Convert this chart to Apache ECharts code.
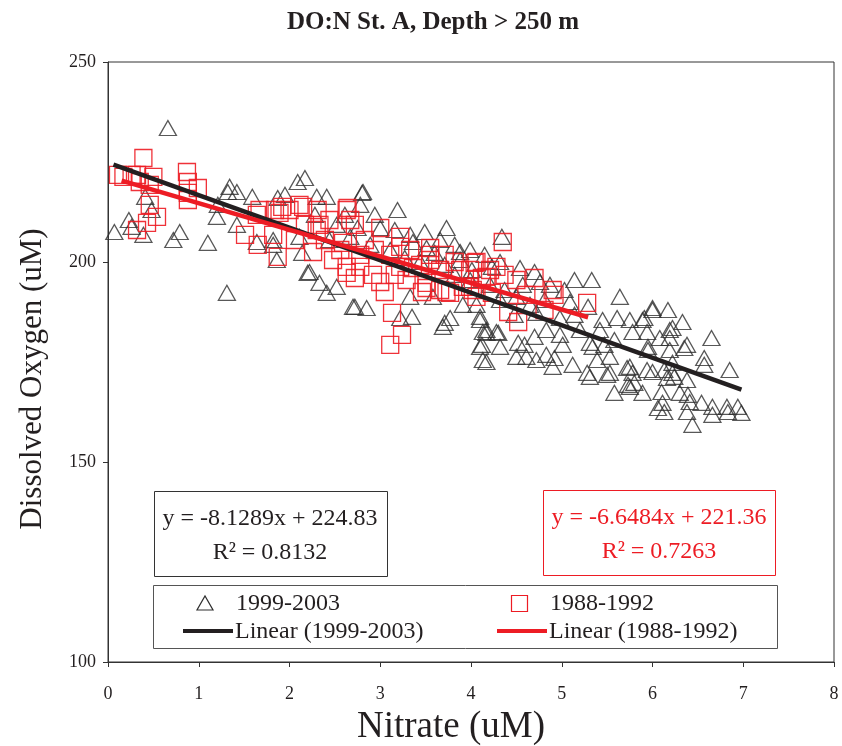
<!DOCTYPE html>
<html>
<head>
<meta charset="utf-8">
<script src="https://cdn.jsdelivr.net/npm/echarts@6/dist/echarts.min.js"></script>
<style>html,body{margin:0;padding:0;background:#fff}#c{width:842px;height:746px}</style>
</head>
<body>
<div id="c"></div>
<script>
// Observations 1999-2003 [nitrate uM, dissolved oxygen uM]
const obs1999 = [[0.07,207.5],[0.66,233.5],[0.41,216.3],[0.48,213.0],[0.23,210.5],[0.26,208.8],[0.39,206.8],[0.72,205.5],[0.79,207.5],[1.10,204.8],[1.31,192.3],[1.34,218.8],[1.42,217.5],[1.32,217.5],[1.59,216.3],[1.20,211.3],[1.42,209.3],[1.64,205.0],[1.82,204.3],[1.86,200.5],[1.95,216.8],[2.09,220.0],[2.17,221.0],[1.21,214.3],[1.82,205.5],[2.11,206.3],[2.14,202.3],[2.20,197.3],[2.33,194.8],[2.41,192.3],[2.52,193.8],[2.30,216.3],[2.41,216.3],[1.87,216.0],[2.81,217.5],[3.19,213.0],[3.73,208.5],[2.22,197.5],[2.72,188.8],[2.85,188.5],[3.22,186.0],[3.35,186.3],[3.71,184.8],[3.77,186.0],[4.10,185.5],[4.13,182.5],[4.12,179.3],[3.36,205.0],[3.51,203.5],[3.00,208.5],[2.75,208.5],[2.52,209.3],[3.91,189.3],[3.58,191.3],[3.33,191.3],[3.88,200.5],[4.01,198.0],[4.06,189.3],[2.80,217.3],[2.70,188.8],[3.69,183.8],[4.17,182.3],[4.10,178.8],[3.60,202.3],[3.88,202.5],[4.23,198.8],[4.34,206.3],[5.33,195.5],[4.76,195.0],[4.57,194.3],[4.50,191.3],[4.10,186.3],[4.17,183.0],[4.28,182.5],[4.13,175.5],[4.17,175.0],[4.52,179.8],[4.61,176.3],[4.70,181.3],[4.83,176.8],[4.92,176.0],[4.90,173.8],[5.01,179.3],[5.12,174.3],[5.28,172.3],[5.31,171.3],[4.98,186.0],[4.83,183.0],[5.31,179.8],[4.72,187.3],[5.64,191.3],[6.00,188.0],[6.17,188.0],[5.29,188.8],[5.09,190.0],[5.61,186.0],[5.75,185.5],[5.89,185.5],[5.78,182.5],[5.94,182.5],[6.19,183.0],[5.47,179.3],[5.34,178.8],[5.53,172.3],[5.72,173.5],[5.78,172.3],[5.94,173.0],[6.00,172.5],[6.13,173.0],[5.58,167.3],[5.73,169.3],[5.80,169.8],[5.89,167.3],[6.06,163.5],[6.13,162.5],[6.10,167.5],[6.22,172.3],[4.59,179.3],[4.30,182.3],[4.72,175.5],[4.50,176.3],[6.33,185.0],[6.22,183.5],[6.08,181.0],[6.38,179.3],[5.45,185.5],[5.75,168.8],[5.75,173.8],[6.16,171.0],[6.11,164.8],[6.41,165.0],[6.44,159.3],[5.95,178.0],[6.19,178.0],[6.22,174.8],[5.39,175.5],[5.53,176.3],[5.50,171.8],[6.65,181.0],[6.19,181.0],[6.35,178.5],[5.95,178.8],[6.57,176.0],[6.57,174.3],[6.24,171.3],[6.38,170.5],[6.85,173.0],[6.30,167.3],[6.39,166.8],[6.38,162.5],[6.54,164.8],[6.66,163.8],[6.66,161.8],[6.82,163.8],[6.83,162.5],[6.94,163.8],[6.98,162.3],[6.00,188.5],[5.91,186.0],[2.67,206.3],[2.89,204.3],[3.11,203.0],[3.27,201.0],[3.44,200.0],[3.71,199.3],[3.82,196.8],[3.99,195.5],[4.21,194.3],[4.37,193.0],[2.44,205.5],[2.28,211.8],[2.61,211.8],[2.78,214.3],[2.94,211.8],[3.16,208.0],[3.33,206.8],[3.49,207.5],[3.66,205.5],[3.82,204.3],[3.99,203.0],[4.15,201.8],[4.32,200.0],[4.54,198.5],[4.70,197.5],[4.87,194.3],[5.03,193.0],[5.14,195.5],[4.81,190.5],[4.65,189.3],[4.32,190.5],[4.48,186.8],[5.14,186.8],[5.42,183.0],[5.58,180.5],[5.20,183.0],[4.98,181.8],[4.32,178.8]];

// Observations 1988-1992 [nitrate uM, dissolved oxygen uM]
const obs1988 = [[0.39,226.0],[0.17,221.3],[0.32,221.8],[0.50,221.3],[0.46,219.3],[0.46,214.3],[0.54,211.3],[0.43,209.8],[0.32,208.0],[0.87,222.5],[0.88,220.0],[0.99,218.5],[0.88,217.3],[0.88,215.5],[0.26,221.8],[0.35,220.0],[0.11,221.8],[1.51,206.8],[1.65,204.3],[1.82,206.8],[1.87,201.3],[1.84,213.0],[1.92,213.8],[2.00,213.0],[1.67,213.0],[1.64,211.8],[2.15,213.8],[1.89,212.3],[2.30,208.0],[2.44,210.5],[2.26,202.5],[2.48,200.5],[2.59,204.8],[2.63,213.0],[2.11,214.3],[2.31,213.0],[2.64,213.5],[2.72,209.3],[2.33,209.3],[3.00,208.5],[3.22,206.3],[2.63,198.8],[2.72,196.0],[3.00,195.0],[3.05,192.5],[3.13,187.3],[3.24,181.8],[3.11,179.3],[3.55,203.5],[3.55,200.5],[3.66,198.0],[3.51,193.5],[3.73,192.5],[3.88,198.0],[4.04,199.8],[4.12,196.0],[3.91,193.8],[4.06,191.3],[2.92,196.8],[3.22,198.8],[3.36,198.5],[4.35,205.0],[3.55,201.8],[4.06,200.0],[4.17,196.3],[4.02,193.0],[3.77,192.3],[3.46,192.5],[3.66,193.0],[2.67,210.5],[3.22,203.8],[2.78,198.8],[2.63,197.3],[3.29,195.5],[3.51,194.8],[4.28,198.8],[4.37,196.8],[4.70,196.0],[4.90,193.0],[4.92,191.8],[5.28,189.8],[4.50,195.5],[4.41,187.5],[4.52,185.0],[4.81,188.0],[4.23,192.3],[4.61,191.8],[3.99,193.8],[2.83,205.5],[2.94,203.0],[3.11,201.8],[3.33,203.0],[3.44,199.3],[3.71,201.8],[3.82,200.0],[3.99,198.0],[4.21,198.0],[3.16,196.8],[2.78,201.8],[2.56,203.0],[2.39,205.5],[2.17,209.3],[2.06,205.5]];

// Linear trend end points (from the fitted equations)
const trend1999 = [[0.06,224.34],[6.98,168.09]];
const trend1988 = [[0.15,220.36],[5.29,186.19]];

const seriesNames = ['1999-2003','1988-1992','Linear (1999-2003)','Linear (1988-1992)'];
const equations = ['y = -8.1289x + 224.83','R\u00b2 = 0.8132','y = -6.6484x + 221.36','R\u00b2 = 0.7263'];
const titleText = 'DO:N St. A, Depth > 250 m';
const xName = 'Nitrate (uM)';
const yName = 'Dissolved Oxygen (uM)';

const BLACK = '#231f20';
const TRI = '#2e2e2e';
const RED = '#ed1c24';
const FONT = 'Liberation Serif';

const chart = echarts.init(document.getElementById('c'));
chart.setOption({
  backgroundColor: '#fff',
  animation: false,
  textStyle: { fontFamily: FONT },
  title: {
    text: titleText, left: 428, top: 5, textAlign: 'center',
    textStyle: { fontFamily: FONT, fontWeight: 'bold', fontSize: 25, color: BLACK }
  },
  grid: { left: 108, right: 8, top: 62, bottom: 84, show: true, borderColor: '#333', borderWidth: 1, backgroundColor: 'transparent', outerBoundsMode: 'none', containLabel: false },
  xAxis: {
    type: 'value', min: 0, max: 8, interval: 1,
    name: xName, nameLocation: 'middle', nameGap: 47,
    nameTextStyle: { fontFamily: FONT, fontSize: 37, color: BLACK, padding: [0, 40, 0, 0] },
    axisLine: { show: true, lineStyle: { color: '#333', width: 1 } },
    axisTick: { show: true, inside: false, length: 5, lineStyle: { color: '#333' } },
    axisLabel: { fontFamily: FONT, fontSize: 18, color: BLACK, margin: 23 },
    splitLine: { show: false }
  },
  yAxis: {
    type: 'value', min: 100, max: 250, interval: 50,
    name: yName, nameLocation: 'middle', nameGap: 60, nameRotate: 90,
    nameTextStyle: { fontFamily: FONT, fontSize: 31, color: BLACK, padding: [0, 34, 0, 0] },
    axisLine: { show: true, lineStyle: { color: '#333', width: 1 } },
    axisTick: { show: true, inside: false, length: 5, lineStyle: { color: '#333' } },
    axisLabel: { fontFamily: FONT, fontSize: 18, color: BLACK, margin: 12 },
    splitLine: { show: false }
  },
  series: [
    {
      name: seriesNames[0], type: 'scatter', data: obs1999,
      symbol: 'triangle', symbolSize: [17, 15],
      itemStyle: { color: 'rgba(0,0,0,0)', borderColor: TRI, borderWidth: 1.3 },
      z: 2
    },
    {
      name: seriesNames[1], type: 'scatter', data: obs1988,
      symbol: 'rect', symbolSize: 17,
      itemStyle: { color: 'rgba(0,0,0,0)', borderColor: RED, borderWidth: 1.3, opacity: 0.9 },
      z: 3
    },
    {
      name: seriesNames[2], type: 'line', data: trend1999, showSymbol: false, symbol: 'none',
      lineStyle: { color: BLACK, width: 4.5 }, z: 4
    },
    {
      name: seriesNames[3], type: 'line', data: trend1988, showSymbol: false, symbol: 'none',
      lineStyle: { color: RED, width: 4.5 }, z: 5
    }
  ],
  graphic: [
    { type: 'rect', shape: { x: 154.5, y: 491.5, width: 233, height: 85 }, style: { fill: '#fff', stroke: '#333', lineWidth: 1 }, z: 10 },
    { type: 'text', x: 270, y: 519, style: { text: equations[0], fill: BLACK, font: '24px "Liberation Serif"', align: 'center', verticalAlign: 'middle' }, z: 11 },
    { type: 'text', x: 270, y: 553, style: { text: equations[1], fill: BLACK, font: '24px "Liberation Serif"', align: 'center', verticalAlign: 'middle' }, z: 11 },
    { type: 'rect', shape: { x: 543.5, y: 490.5, width: 232, height: 85 }, style: { fill: '#fff', stroke: RED, lineWidth: 1 }, z: 10 },
    { type: 'text', x: 659, y: 518, style: { text: equations[2], fill: RED, font: '24px "Liberation Serif"', align: 'center', verticalAlign: 'middle' }, z: 11 },
    { type: 'text', x: 659, y: 552, style: { text: equations[3], fill: RED, font: '24px "Liberation Serif"', align: 'center', verticalAlign: 'middle' }, z: 11 },
    { type: 'rect', shape: { x: 153.5, y: 585.5, width: 624, height: 63 }, style: { fill: '#fff', stroke: '#555', lineWidth: 1 }, z: 10 },
    { type: 'polygon', shape: { points: [[197, 610], [213, 610], [205, 596]] }, style: { fill: 'none', stroke: TRI, lineWidth: 1.2 }, z: 11 },
    { type: 'text', x: 236, y: 604, style: { text: seriesNames[0], fill: BLACK, font: '24px "Liberation Serif"', align: 'left', verticalAlign: 'middle' }, z: 11 },
    { type: 'line', shape: { x1: 183, y1: 631, x2: 233, y2: 631 }, style: { stroke: BLACK, lineWidth: 4 }, z: 11 },
    { type: 'text', x: 235, y: 632, style: { text: seriesNames[2], fill: BLACK, font: '24px "Liberation Serif"', align: 'left', verticalAlign: 'middle' }, z: 11 },
    { type: 'rect', shape: { x: 511.5, y: 595.5, width: 16, height: 16 }, style: { fill: 'none', stroke: RED, lineWidth: 1.2 }, z: 11 },
    { type: 'text', x: 550, y: 604, style: { text: seriesNames[1], fill: BLACK, font: '24px "Liberation Serif"', align: 'left', verticalAlign: 'middle' }, z: 11 },
    { type: 'line', shape: { x1: 497, y1: 631, x2: 547, y2: 631 }, style: { stroke: RED, lineWidth: 4 }, z: 11 },
    { type: 'text', x: 549, y: 632, style: { text: seriesNames[3], fill: BLACK, font: '24px "Liberation Serif"', align: 'left', verticalAlign: 'middle' }, z: 11 }
  ]
});
</script>
</body>
</html>
